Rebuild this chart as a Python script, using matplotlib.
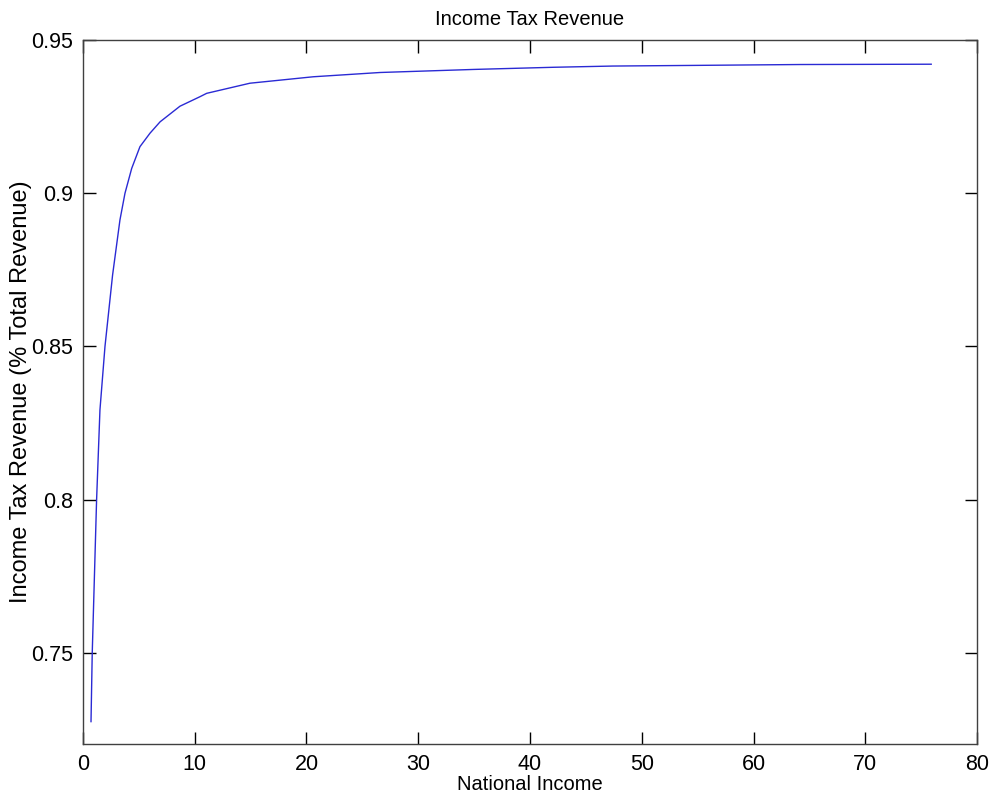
import matplotlib.pyplot as plt

# --- data ---
national_income = [0.72, 0.83, 1.22, 1.52, 1.97, 2.65, 3.31, 3.76, 4.36, 5.1, 6.0, 6.9,
                   8.68, 10.47, 11.07, 14.94, 20.6, 26.6, 35.0, 42.1, 47.4, 54.3, 64.2, 75.9]
tax_share = [0.7276, 0.75, 0.80, 0.8293, 0.85, 0.8733, 0.8913, 0.90, 0.9081, 0.9152,
             0.9196, 0.9233, 0.9284, 0.9315, 0.9326, 0.9359, 0.9380, 0.9394, 0.9404,
             0.9411, 0.9415, 0.9417, 0.9420, 0.9421]

x_ticks = [0, 10, 20, 30, 40, 50, 60, 70, 80]
y_ticks = [0.75, 0.8, 0.85, 0.9, 0.95]
y_tick_labels = ['0.75', '0.8', '0.85', '0.9', '0.95']

plt.rcParams['font.family'] = ['Liberation Sans', 'DejaVu Sans']

fig = plt.figure(figsize=(9.9, 8), dpi=100)
ax = fig.add_axes([0.0838, 0.07, 0.9031, 0.88])

ax.plot(national_income, tax_share, color='#2a2ad4', lw=1.0)

ax.set_xlim(0, 80)
ax.set_ylim(0.7203, 0.95)
ax.set_xticks(x_ticks)
ax.set_yticks(y_ticks)
ax.set_yticklabels(y_tick_labels)
ax.tick_params(direction='in', length=9, width=1, top=True, right=True,
               labelsize=15.5, pad=7, colors='black')
for s in ax.spines.values():
    s.set_color('#404040')
    s.set_linewidth(1)

ax.set_title('Income Tax Revenue', fontsize=14.5, pad=11)
ax.set_xlabel('National Income', fontsize=14.5, labelpad=0)
ax.set_ylabel('Income Tax Revenue (% Total Revenue)', fontsize=17)
ax.yaxis.set_label_coords(-0.057, 0.5)

fig.savefig('out.png', dpi=100)
